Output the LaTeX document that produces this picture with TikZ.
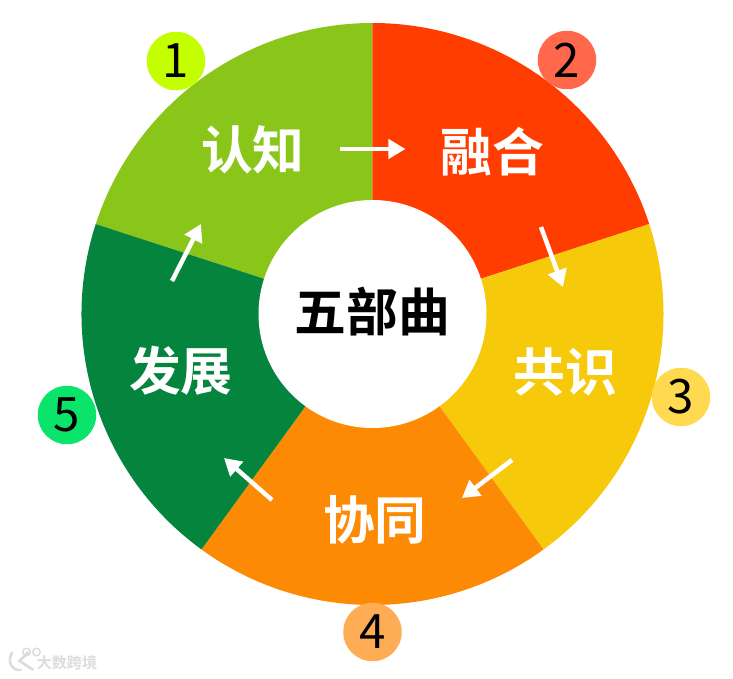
\documentclass[tikz,border=0pt]{standalone}
\usepackage{fontspec}
\setmainfont{Noto Sans}
\newfontfamily\cjkbold{Noto Sans CJK SC Bold}
\newfontfamily\cjkreg{Noto Sans CJK SC}
\usepackage{xcolor}
\usetikzlibrary{arrows.meta}
\definecolor{zhigreen}{HTML}{8AC51A}
\definecolor{ronred}{HTML}{FF3D00}
\definecolor{gongyellow}{HTML}{F7C90B}
\definecolor{xieorange}{HTML}{FD8A05}
\definecolor{fazhangreen}{HTML}{05843D}
\definecolor{markgray}{HTML}{DCDCDC}
\definecolor{badgeone}{HTML}{C4FF00}
\definecolor{badgetwo}{HTML}{FF684A}
\definecolor{badgethree}{HTML}{FFD94F}
\definecolor{badgefour}{HTML}{FFAD55}
\definecolor{badgefive}{HTML}{0BE46A}
\tikzset{
  stagelabel/.style={text=white, font=\cjkbold\fontsize{29.5}{30}\selectfont, inner sep=0pt},
  badge/.style={circle, minimum size=1.17cm, inner sep=0pt, text=black, font=\cjkreg\fontsize{27}{27}\selectfont},
  flow/.style={white, line width=0.09cm, -{Triangle[length=0.34cm,width=0.38cm]}}
}
\begin{document}
\begin{tikzpicture}
  \useasboundingbox (-7.45,-7.28) rectangle (7.21,6.28);
  % the five sectors
  \foreach \from/\to/\col in {90/162/zhigreen,18/90/ronred,-54/18/gongyellow,-126/-54/xieorange,-198/-126/fazhangreen} {
    \fill[\col] (0,0) -- (\from:5.82) arc (\from:\to:5.82) -- cycle;
  }
  % hole in the middle
  \fill[white] (0,0) circle (2.28);
  \node[inner sep=0pt, font=\cjkbold\fontsize{29.5}{30}\selectfont] (title) at (0,0.04) {五部曲};
  % stage names
  \node[stagelabel] (renzhi) at (-2.39,3.28) {认知};
  \node[stagelabel] (ronghe) at (2.39,3.24) {融合};
  \node[stagelabel] (gongshi) at (3.85,-1.16) {共识};
  \node[stagelabel] (xietong) at (0.05,-4.12) {协同};
  \node[stagelabel] (fazhan) at (-3.83,-1.14) {发展};
  % numbered badges
  \node[badge, fill=badgeone] (one) at (-3.93,5.06) {1};
  \node[badge, fill=badgetwo] (two) at (3.89,5.08) {2};
  \node[badge, fill=badgethree] (three) at (6.17,-1.66) {3};
  \node[badge, fill=badgefour] (four) at (0,-6.36) {4};
  \node[badge, fill=badgefive] (five) at (-6.11,-2.02) {5};
  % arrow ends
  \coordinate (a1) at (-0.65,3.30); \coordinate (b1) at (0.66,3.30);
  \coordinate (a2) at (3.37,1.74);  \coordinate (b2) at (3.81,0.54);
  \coordinate (a3) at (2.79,-2.92); \coordinate (b3) at (1.79,-3.68);
  \coordinate (a4) at (-2.01,-3.72); \coordinate (b4) at (-2.97,-2.88);
  \coordinate (a5) at (-4.01,0.66); \coordinate (b5) at (-3.43,1.80);
  \foreach \i in {1,...,5} {
    \draw[flow] (a\i) -- (b\i);
  }
  % watermark, bottom left
  \node[inner sep=0pt, text=markgray, font=\cjkbold\fontsize{8.6}{8.6}\selectfont] (mark) at (-6.11,-6.98) {大数跨境};
  \draw[markgray, line width=0.05cm] (-7.2,-6.76) .. controls (-7.32,-6.95) and (-7.22,-7.14) .. (-7.02,-7.12);
  \draw[markgray, line width=0.05cm] (-6.78,-7.12) -- (-7.06,-6.94) -- (-6.88,-6.76);
  \draw[markgray, line width=0.03cm] (-6.92,-6.76) circle (0.075) (-6.72,-6.76) circle (0.075);
\end{tikzpicture}
\end{document}
